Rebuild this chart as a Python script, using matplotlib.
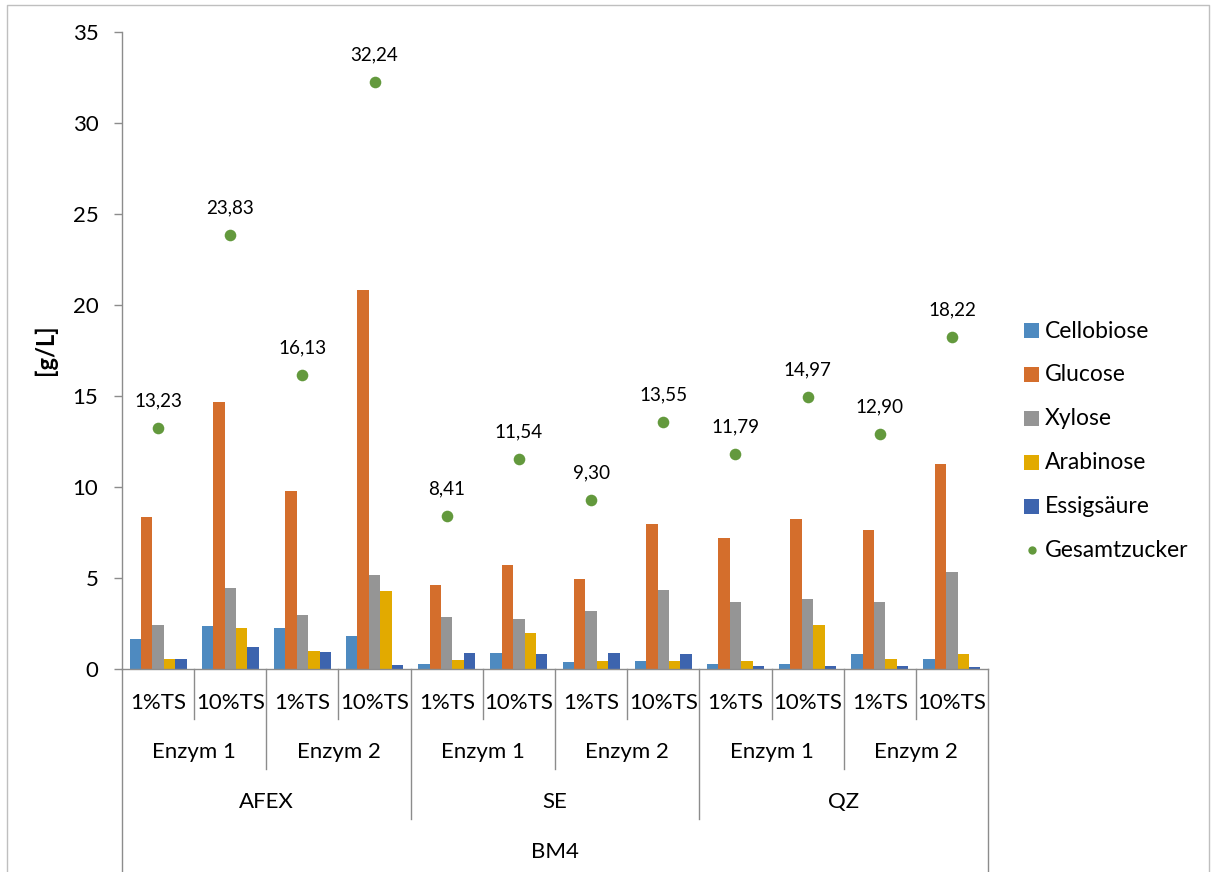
import matplotlib
matplotlib.use("Agg")
import matplotlib.pyplot as plt
from matplotlib import transforms
from matplotlib.patches import Rectangle
from matplotlib.lines import Line2D
import numpy as np

plt.rcParams['font.family'] = ['Lato', 'DejaVu Sans']

# ---- data ----
ts_labels = ["1%TS", "10%TS"] * 6
enzym_labels = ["Enzym 1", "Enzym 2"] * 3
treat_labels = ["AFEX", "SE", "QZ"]
top_label = "BM4"

series_names = ["Cellobiose", "Glucose", "Xylose", "Arabinose", "Essigsäure"]
cellobiose = [1.65, 2.34, 2.25, 1.79, 0.27, 0.90, 0.37, 0.46, 0.27, 0.27, 0.81, 0.55]
glucose = [8.35, 14.65, 9.78, 20.84, 4.62, 5.70, 4.96, 7.98, 7.20, 8.26, 7.64, 11.26]
xylose = [2.42, 4.45, 2.97, 5.18, 2.84, 2.75, 3.20, 4.36, 3.66, 3.83, 3.66, 5.31]
arabinose = [0.57, 2.25, 1.00, 4.29, 0.48, 1.96, 0.46, 0.46, 0.46, 2.40, 0.55, 0.81]
essigsaeure = [0.57, 1.19, 0.91, 0.22, 0.90, 0.81, 0.90, 0.81, 0.18, 0.18, 0.18, 0.09]
gesamtzucker = [13.23, 23.83, 16.13, 32.24, 8.41, 11.54, 9.30, 13.55, 11.79, 14.97, 12.90, 18.22]
gesamt_name = "Gesamtzucker"

bar_series = [cellobiose, glucose, xylose, arabinose, essigsaeure]
colors = ["#4E8AC0", "#D46E2C", "#959595", "#E2AA00", "#3D64AE"]
green = "#63993D"
axis_gray = "#8C8C8C"

W, H = 1212, 872
fig = plt.figure(figsize=(W / 100, H / 100), dpi=100)

def fy(py):
    return 1 - py / H

def fx(px):
    return px / W

ax = fig.add_axes([fx(122), fy(669), (988 - 122) / W, (669 - 32) / H])

n = len(ts_labels)
x = np.arange(n)
bw = 0.158
for i, (vals, c) in enumerate(zip(bar_series, colors)):
    ax.bar(x + (i - 2) * bw, vals, width=bw, color=c, linewidth=0, zorder=2)

ax.scatter(x, gesamtzucker, s=70, color=green, zorder=3, linewidths=0)
for xi, v in zip(x, gesamtzucker):
    ax.annotate(f"{v:.2f}".replace(".", ","), (xi, v), xytext=(0, 19.5),
                textcoords="offset points", ha="center", va="center", fontsize=13.6)

ax.set_xlim(-0.5, n - 0.5)
ax.set_ylim(0, 35)
ax.set_yticks(np.arange(0, 36, 5))
ax.tick_params(axis="y", direction="out", length=6, width=1, color=axis_gray,
               labelsize=16, pad=11)
ax.set_xticks([])
for s in ["top", "right"]:
    ax.spines[s].set_visible(False)
for s in ["left", "bottom"]:
    ax.spines[s].set_color(axis_gray)
    ax.spines[s].set_linewidth(1)

fig.text(fx(45), fy(350), "[g/L]", rotation=90, ha="center", va="center",
         fontsize=17, fontweight="bold")

# ---- multi-level category axis ----
bt = transforms.blended_transform_factory(ax.transData, fig.transFigure)

def vline(xd, y_end):
    fig.add_artist(Line2D([xd, xd], [fy(669), fy(y_end)], transform=bt,
                          color=axis_gray, lw=1))

for b in range(n + 1):
    xd = b - 0.5
    if b == 0 or b == n:
        y_end = 872
    elif b % 4 == 0:
        y_end = 819
    elif b % 2 == 0:
        y_end = 769
    else:
        y_end = 719
    vline(xd, y_end)

fs_cat = 16
for i, lab in enumerate(ts_labels):
    fig.text(i, fy(703), lab, transform=bt, ha="center", va="center", fontsize=fs_cat)
for i, lab in enumerate(enzym_labels):
    fig.text(2 * i + 0.5, fy(752), lab, transform=bt, ha="center", va="center", fontsize=fs_cat)
for i, lab in enumerate(treat_labels):
    fig.text(4 * i + 1.5, fy(802), lab, transform=bt, ha="center", va="center", fontsize=fs_cat)
fig.text((n - 1) / 2, fy(852), top_label, transform=bt, ha="center", va="center", fontsize=fs_cat)

# ---- legend ----
leg_names = series_names + [gesamt_name]
for k, name in enumerate(leg_names):
    yc = 331 + k * 43.8
    if k < len(series_names):
        fig.add_artist(Rectangle((fx(1024), fy(yc + 7.5)), 15 / W, 15 / H,
                                 transform=fig.transFigure, color=colors[k], lw=0))
    else:
        fig.add_artist(Line2D([fx(1032)], [fy(yc)], marker="o", markersize=6,
                              color=green, markeredgewidth=0, transform=fig.transFigure))
    fig.text(fx(1045), fy(yc), name, ha="left", va="center", fontsize=16.5)

# ---- outer border ----
fig.add_artist(Line2D([fx(7), fx(7), fx(1209), fx(1209)],
                      [0, fy(5), fy(5), 0], transform=fig.transFigure,
                      color="#BFBFBF", lw=1))

fig.savefig("out.png", dpi=100)
